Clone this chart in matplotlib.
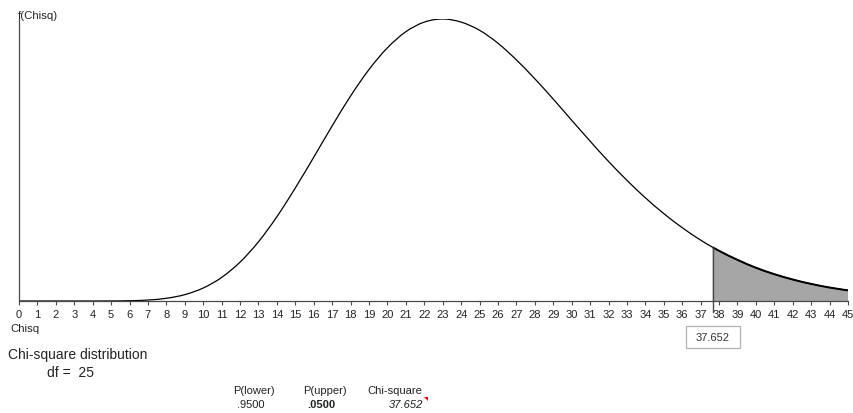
import matplotlib
matplotlib.use('Agg')
import matplotlib.pyplot as plt
import numpy as np
from matplotlib.path import Path
from matplotlib.patches import PathPatch, Polygon, Rectangle

plt.rcParams['font.family'] = ['Liberation Sans', 'DejaVu Sans']

# Chi-square density (df = 25), scaled so the mode is 1, read at whole values.
chisq = list(range(0, 46))
density = [0.0, 0.0, 0.0, 0.0, 0.00001, 0.0002, 0.001, 0.0034, 0.0096, 0.0226,
           0.0461, 0.0836, 0.138, 0.210, 0.299, 0.401, 0.510, 0.621, 0.727, 0.821,
           0.898, 0.955, 0.989, 1.0, 0.989, 0.960, 0.914, 0.855, 0.788, 0.716,
           0.641, 0.567, 0.495, 0.428, 0.366, 0.310, 0.260, 0.216, 0.178, 0.146,
           0.118, 0.0952, 0.0762, 0.0606, 0.0478, 0.0376]

df = 25
crit_value = 37.652
crit_density = 0.1905
p_lower = '.9500'
p_upper = '.0500'

x = np.array(chisq, dtype=float)
y = np.array(density)
pos = np.searchsorted(x, crit_value)
x = np.insert(x, pos, crit_value)
y = np.insert(y, pos, crit_density)


def smooth_path(xs, ys):
    """Cubic Hermite path through the points (finite-difference slopes)."""
    m = np.gradient(ys, xs)
    verts = [(xs[0], ys[0])]
    codes = [Path.MOVETO]
    for i in range(len(xs) - 1):
        h = (xs[i + 1] - xs[i]) / 3
        verts += [(xs[i] + h, ys[i] + m[i] * h),
                  (xs[i + 1] - h, ys[i + 1] - m[i + 1] * h),
                  (xs[i + 1], ys[i + 1])]
        codes += [Path.CURVE4] * 3
    return verts, codes


W, H = 854, 414
fig = plt.figure(figsize=(W / 100, H / 100), dpi=100)
ax = fig.add_axes([19 / W, 1 - 302 / H, (848 - 19) / W, (302 - 20) / H])

axis_col = '#4a4a4a'
verts, codes = smooth_path(x, y)
k = 3 * pos  # vertex of the critical point
tail_verts = [(crit_value, 0.0)] + verts[k:] + [(x[-1], 0.0), (crit_value, 0.0)]
tail_codes = [Path.MOVETO, Path.LINETO] + codes[k + 1:] + [Path.LINETO, Path.CLOSEPOLY]
ax.add_patch(PathPatch(Path(tail_verts, tail_codes), fc='#a6a6a6', ec='none'))
ax.add_patch(PathPatch(Path(verts, codes), fc='none', ec='black', lw=0.9))
tail_line = Path(verts[k:], [Path.MOVETO] + codes[k + 1:])
ax.add_patch(PathPatch(tail_line, fc='none', ec='black', lw=1.4))
ax.plot([crit_value, crit_value], [-0.04, crit_density], color=axis_col, lw=1.0,
        clip_on=False)

ax.set_xlim(0, 45)
ax.set_ylim(0, 1.0)
for side in ('top', 'right'):
    ax.spines[side].set_visible(False)
for side in ('left', 'bottom'):
    ax.spines[side].set_color(axis_col)
    ax.spines[side].set_linewidth(0.9)
ax.set_yticks([])
ax.set_xticks(chisq)
ax.tick_params(axis='x', direction='out', length=3, width=0.8, color=axis_col,
               labelsize=8, pad=3, labelcolor='#222222')

# value box under the critical point
box_w = 54 / 18.42
ax.add_patch(Rectangle((crit_value - box_w / 2, -0.167), box_w, 0.079, fc='white',
                       ec='#b0b0b0', lw=0.9, clip_on=False))
ax.text(crit_value, -0.128, f'{crit_value:.3f}', ha='center', va='center', fontsize=8,
        color='#333333')


def ftext(px, py, s, **kw):
    fig.text(px / W, 1 - py / H, s, va='center', color='#222222', **kw)


ftext(18, 16, 'f(Chisq)', fontsize=8.2)
ftext(10, 329, 'Chisq', fontsize=8.2)
ftext(8, 355, 'Chi-square distribution', fontsize=10)
ftext(47, 373, f'df =  {df}', fontsize=10)

ftext(233, 391, 'P(lower)', fontsize=8)
ftext(303, 391, 'P(upper)', fontsize=8)
ftext(367, 391, 'Chi-square', fontsize=8)
ftext(237, 405, p_lower, fontsize=8)
ftext(307, 405, p_upper, fontsize=8, fontweight='bold')
fig.text(423 / W, 1 - 405 / H, f'{crit_value:.3f}', ha='right', va='center',
         fontsize=8, fontstyle='italic', color='#222222')

# comment marker in the corner of the chi-square cell
tri = [(424, 398), (428, 398), (428, 402)]
fig.patches.append(Polygon([(px / W, 1 - py / H) for px, py in tri], closed=True,
                           transform=fig.transFigure, fc='red', ec='none'))

fig.savefig('out.png', dpi=100)
